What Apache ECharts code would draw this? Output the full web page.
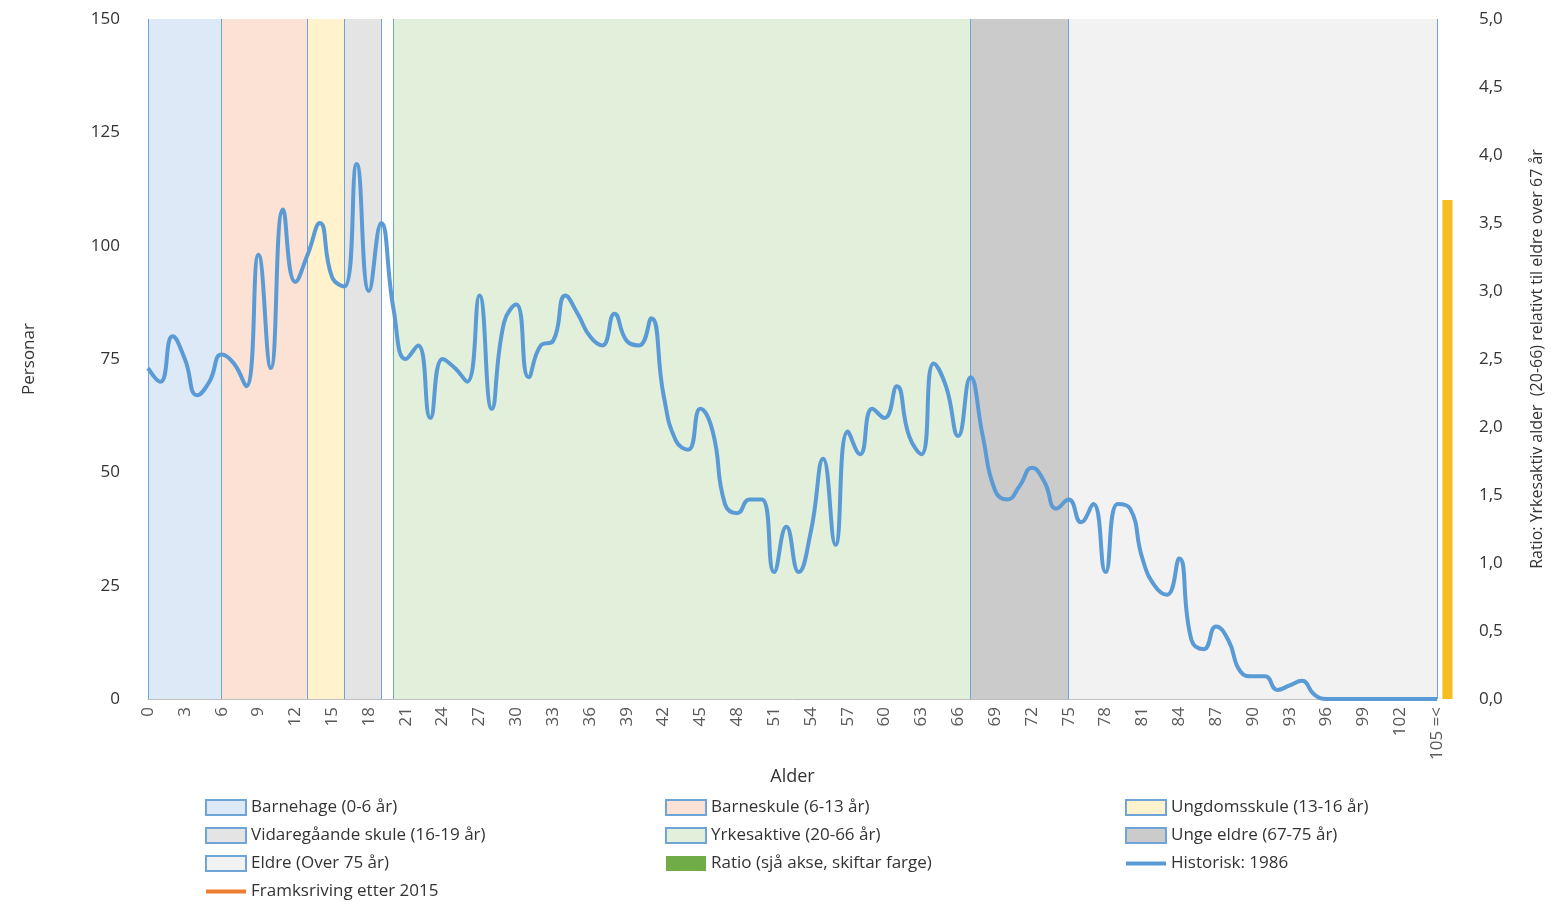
<!DOCTYPE html>
<html>
<head>
<meta charset="utf-8">
<script src="https://cdn.jsdelivr.net/npm/echarts@6/dist/echarts.min.js"></script>
<style>html,body{margin:0;padding:0;background:#fff}#chart{width:1561px;height:912px}</style>
</head>
<body>
<div id="chart"></div>
<script>
const ages = [];
for (let i = 0; i < 105; i++) ages.push(String(i));
ages.push('105 =<');

const historisk = [73,70,80,75,67,70,76,74,69,98,73,108,92,98,105,93,91,118,90,105,
  86,75,78,62,75,73,70,89,64,83,87,71,78,79,89,85,80,78,85,79,
  78,84,67,57,55,64,59,43,41,44,44,28,38,28,37,53,34,59,54,64,
  62,69,58,54,74,69,58,71,58,46,44,47,51,48,42,44,39,43,28,43,
  42,31,25,23,31,13,11,16,13,6,5,5,2,3,4,1,0,0,0,0,
  0,0,0,0,0,0];

const ratio = [[105.85, 3.67]];

const bands = [
  { name: 'Barnehage (0-6 år)', from: 0, to: 6, color: '#dde9f6' },
  { name: 'Barneskule (6-13 år)', from: 6, to: 13, color: '#fbe2d5' },
  { name: 'Ungdomsskule (13-16 år)', from: 13, to: 16, color: '#fff2cc' },
  { name: 'Vidaregåande skule (16-19 år)', from: 16, to: 19, color: '#e4e4e4' },
  { name: 'Yrkesaktive (20-66 år)', from: 20, to: 67, color: '#e2efda' },
  { name: 'Unge eldre (67-75 år)', from: 67, to: 75, color: '#cccbcb' },
  { name: 'Eldre (Over 75 år)', from: 75, to: 105, color: '#f2f2f2' }
];

const font = 'Open Sans';
const lineIcon = 'path://M0,0h40v4h-40z';

const series = bands.map((b) => ({
  name: b.name,
  type: 'line',
  data: [],
  itemStyle: { color: b.color, borderColor: '#6fa4d8', borderWidth: 1 },
  markArea: {
    silent: true,
    itemStyle: { color: b.color, borderWidth: 0 },
    data: [[{ xAxis: b.from }, { xAxis: b.to }]]
  },
  markLine: {
    silent: true, symbol: 'none', label: { show: false },
    lineStyle: { color: '#6fa4d8', width: 1, type: 'solid' },
    data: [{ xAxis: b.from }, { xAxis: b.to }]
  }
}));

series.push({
  name: 'Ratio (sjå akse, skiftar farge)',
  type: 'bar',
  xAxisIndex: 1,
  yAxisIndex: 1,
  barWidth: 10,
  clip: false,
  itemStyle: { color: '#70ad47' },
  data: ratio.map((d) => ({ value: d, itemStyle: { color: '#f5bd1f' } }))
});
series.push({
  name: 'Historisk: 1986',
  type: 'line',
  smooth: 0.5,
  symbol: 'none',
  z: 10,
  lineStyle: { color: '#5b9bd5', width: 4 },
  itemStyle: { color: '#5b9bd5' },
  data: historisk
});
series.push({
  name: 'Framksriving etter 2015',
  type: 'line',
  symbol: 'none',
  lineStyle: { color: '#ed7d31', width: 4 },
  itemStyle: { color: '#ed7d31' },
  data: []
});

function legendCol(left, names) {
  return {
    orient: 'vertical', left: left, top: 799, height: 120, itemGap: 11,
    itemWidth: 40, itemHeight: 15, padding: 0,
    textStyle: { color: '#333', fontFamily: font, fontSize: 17 },
    data: names.map((n) => {
      const isLine = n.startsWith('Historisk') || n.startsWith('Framksriving');
      return { name: n, icon: isLine ? lineIcon : 'rect' };
    }),
    selectedMode: false
  };
}

const chart = echarts.init(document.getElementById('chart'));
chart.setOption({
  animation: false,
  textStyle: { fontFamily: font },
  grid: { left: 148, right: 124, top: 19, bottom: 213 },
  legend: [
    legendCol(205, [bands[0].name, bands[3].name, bands[6].name, 'Framksriving etter 2015']),
    legendCol(665, [bands[1].name, bands[4].name, 'Ratio (sjå akse, skiftar farge)']),
    legendCol(1125, [bands[2].name, bands[5].name, 'Historisk: 1986'])
  ],
  xAxis: [{
    type: 'category', data: ages, boundaryGap: false,
    name: 'Alder', nameLocation: 'middle', nameGap: 66,
    nameTextStyle: { color: '#333', fontFamily: font, fontSize: 18 },
    axisLine: { lineStyle: { color: '#bfbfbf' } },
    axisTick: { show: false },
    axisLabel: { color: '#595959', fontFamily: font, fontSize: 17, rotate: 90, interval: 2 }
  }, {
    type: 'value', min: 0, max: 105, show: false
  }],
  yAxis: [{
    type: 'value', min: 0, max: 150, interval: 25,
    name: 'Personar', nameLocation: 'middle', nameGap: 110,
    nameTextStyle: { color: '#333', fontFamily: font, fontSize: 17 },
    splitLine: { show: false },
    axisLine: { show: false }, axisTick: { show: false },
    axisLabel: { color: '#333', fontFamily: font, fontSize: 17, margin: 28 }
  }, {
    type: 'value', min: 0, max: 5, interval: 0.5,
    name: 'Ratio: Yrkesaktiv alder  (20-66) relativt til eldre over 67 år',
    nameLocation: 'middle', nameGap: 92,
    nameTextStyle: { color: '#333', fontFamily: font, fontSize: 16 },
    splitLine: { show: false },
    axisLine: { show: false }, axisTick: { show: false },
    axisLabel: { color: '#333', fontFamily: font, fontSize: 17, margin: 42,
      formatter: (v) => v.toFixed(1).replace('.', ',') }
  }],
  series: series
});
</script>
</body>
</html>
